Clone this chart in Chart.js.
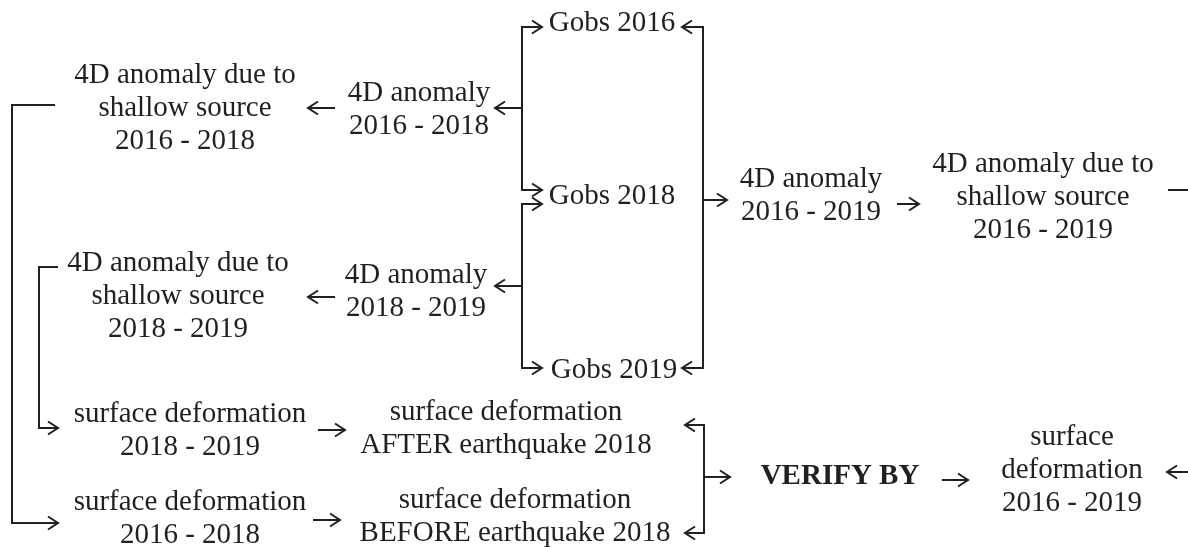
<!DOCTYPE html>
<html lang="en">
<head>
<meta charset="UTF-8">
<title>4D gravity workflow</title>
<script src="https://cdn.jsdelivr.net/npm/chart.js"></script>
<style>
  html, body { margin: 0; padding: 0; background: #fff; }
  #wrap { width: 1188px; height: 547px; position: relative; }
</style>
</head>
<body>
<div id="wrap"><canvas id="flow"></canvas></div>
<script>
// boxes of the workflow (text lines) and where their centres sit
const nodeLabels = [
  ['4D anomaly due to', 'shallow source', '2016 - 2018'],
  ['4D anomaly', '2016 - 2018'],
  ['Gobs 2016'],
  ['Gobs 2018'],
  ['Gobs 2019'],
  ['4D anomaly', '2016 - 2019'],
  ['4D anomaly due to', 'shallow source', '2016 - 2019'],
  ['4D anomaly due to', 'shallow source', '2018 - 2019'],
  ['4D anomaly', '2018 - 2019'],
  ['surface deformation', '2018 - 2019'],
  ['surface deformation', '2016 - 2018'],
  ['surface deformation', 'AFTER earthquake 2018'],
  ['surface deformation', 'BEFORE earthquake 2018'],
  ['VERIFY BY'],
  ['surface', 'deformation', '2016 - 2019']
];
const nodeX = [185, 419, 612, 612, 614, 811, 1043, 178, 416, 190, 190, 506, 515, 840, 1072];
const nodeY = [108, 110, 23, 196, 370, 196, 197, 296, 292, 431, 519, 429, 517, 477, 470];
const boldNodes = [13];

// connectors: polylines in the same units, plus which ends carry an arrow head
const linkPaths = [
  [[55, 105], [12, 105], [12, 523], [58, 523]],
  [[58, 267], [39, 267], [39, 428], [58, 428]],
  [[335, 108], [308, 108]],
  [[522, 108], [495, 108]],
  [[542, 27], [522, 27], [522, 190], [542, 190]],
  [[542, 204], [522, 204], [522, 368], [542, 368]],
  [[522, 286], [495, 286]],
  [[335, 297], [308, 297]],
  [[682, 27], [703, 27], [703, 368], [682, 368]],
  [[703, 200], [727, 200]],
  [[897, 204], [919, 204]],
  [[1168, 190], [1188, 190]],
  [[1188, 472], [1167, 472]],
  [[318, 430], [345, 430]],
  [[313, 520], [340, 520]],
  [[685, 425], [704, 425], [704, 533], [685, 533]],
  [[704, 477], [730, 477]],
  [[942, 480], [968, 480]]
];
const linkArrows = ['end', 'end', 'end', 'end', 'both', 'both', 'end', 'end', 'both',
  'end', 'end', 'none', 'end', 'end', 'end', 'both', 'end', 'end'];

const INK = '#231f20';
const HEAD_LEN = 10;
const HEAD_HALF = 6.5;

function toPoints(path) {
  return path.map(p => ({ x: p[0], y: p[1] }));
}

// open "V" head at tip, pointing from prev to tip
function headFor(prev, tip) {
  const dx = tip[0] - prev[0], dy = tip[1] - prev[1];
  const len = Math.hypot(dx, dy) || 1;
  const ux = dx / len, uy = dy / len;
  const bx = tip[0] - ux * HEAD_LEN, by = tip[1] - uy * HEAD_LEN;
  return [
    { x: bx - uy * HEAD_HALF, y: by + ux * HEAD_HALF },
    { x: tip[0], y: tip[1] },
    { x: bx + uy * HEAD_HALF, y: by - ux * HEAD_HALF }
  ];
}

const lineStyle = {
  showLine: true,
  borderColor: INK,
  borderWidth: 2,
  pointRadius: 0,
  pointHoverRadius: 0,
  tension: 0,
  fill: false
};

const datasets = [];
linkPaths.forEach((path, i) => {
  datasets.push({ ...lineStyle, data: toPoints(path) });
  const mode = linkArrows[i];
  if (mode === 'end' || mode === 'both') {
    datasets.push({ ...lineStyle, data: headFor(path[path.length - 2], path[path.length - 1]) });
  }
  if (mode === 'both') {
    datasets.push({ ...lineStyle, data: headFor(path[1], path[0]) });
  }
});

const nodeText = {
  id: 'nodeText',
  afterDatasetsDraw(chart) {
    const { ctx, scales } = chart;
    const lineH = 33;
    ctx.save();
    ctx.fillStyle = INK;
    ctx.textAlign = 'center';
    ctx.textBaseline = 'middle';
    nodeLabels.forEach((lines, i) => {
      const weight = boldNodes.includes(i) ? 'bold ' : '';
      ctx.font = weight + '29px "Liberation Serif", "Times New Roman", serif';
      const cx = scales.x.getPixelForValue(nodeX[i]);
      const cy = scales.y.getPixelForValue(nodeY[i]);
      lines.forEach((txt, k) => {
        ctx.fillText(txt, cx, cy + (k - (lines.length - 1) / 2) * lineH);
      });
    });
    ctx.restore();
  }
};

new Chart(document.getElementById('flow'), {
  type: 'scatter',
  data: { datasets },
  options: {
    responsive: true,
    maintainAspectRatio: false,
    animation: false,
    layout: { padding: 0 },
    scales: {
      x: { type: 'linear', min: 0, max: 1188, display: false },
      y: { type: 'linear', min: 0, max: 547, reverse: true, display: false }
    },
    plugins: {
      legend: { display: false },
      tooltip: { enabled: false }
    }
  },
  plugins: [nodeText]
});
</script>
</body>
</html>
